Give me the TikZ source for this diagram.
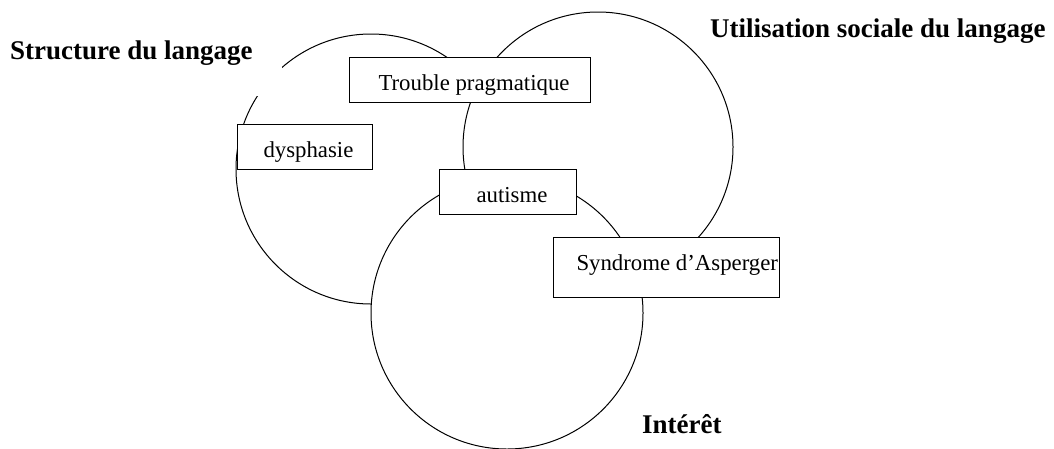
\documentclass[tikz,border=0pt]{standalone}
\usepackage{fontspec}
\setmainfont{Liberation Serif}
\begin{document}
\begin{tikzpicture}[x=1pt,y=-1pt,
  ring/.style={circle, draw, fill=white, line width=1pt, inner sep=0pt, minimum size=270pt},
  tbox/.style={draw, fill=white, line width=1pt, inner sep=0pt, anchor=north west,
    text height=33pt, text depth=12pt, font=\fontsize{22.8}{27}\selectfont},
  title/.style={inner sep=0pt, anchor=base west, font=\fontsize{27}{32}\selectfont\bfseries}]
\useasboundingbox (0,0) rectangle (1054,448);
% circles
\node[ring] (lc) at (371,169) {};
\node[ring] (rc) at (598,147) {};
\node[ring, minimum size=272pt] (bc) at (507,313) {};
% titles
\node[fill=white, inner sep=0pt, anchor=north west, text height=34pt, text depth=37pt,
  font=\fontsize{27}{32}\selectfont\bfseries] (structure) at (0,25)
  {\makebox[282pt][l]{\hspace{10pt}Structure du langage}};
\node[title] (utilisation) at (710,37) {Utilisation sociale du langage};
\node[title] (interet) at (642,433) {Intérêt};
% boxes
\node[tbox] (trouble) at (349,57) {\makebox[241pt][l]{\hspace{29pt}Trouble pragmatique}};
\node[tbox] (dysphasie) at (237,124) {\makebox[135pt][l]{\hspace{26pt}dysphasie}};
\node[tbox] (autisme) at (439,169) {\makebox[137pt][l]{\hspace{37pt}autisme}};
\node[tbox, text height=33pt, text depth=27pt] (asperger) at (553,237) {\makebox[226pt][l]{\hspace{23pt}Syndrome d’Asperger}};
\end{tikzpicture}
\end{document}
